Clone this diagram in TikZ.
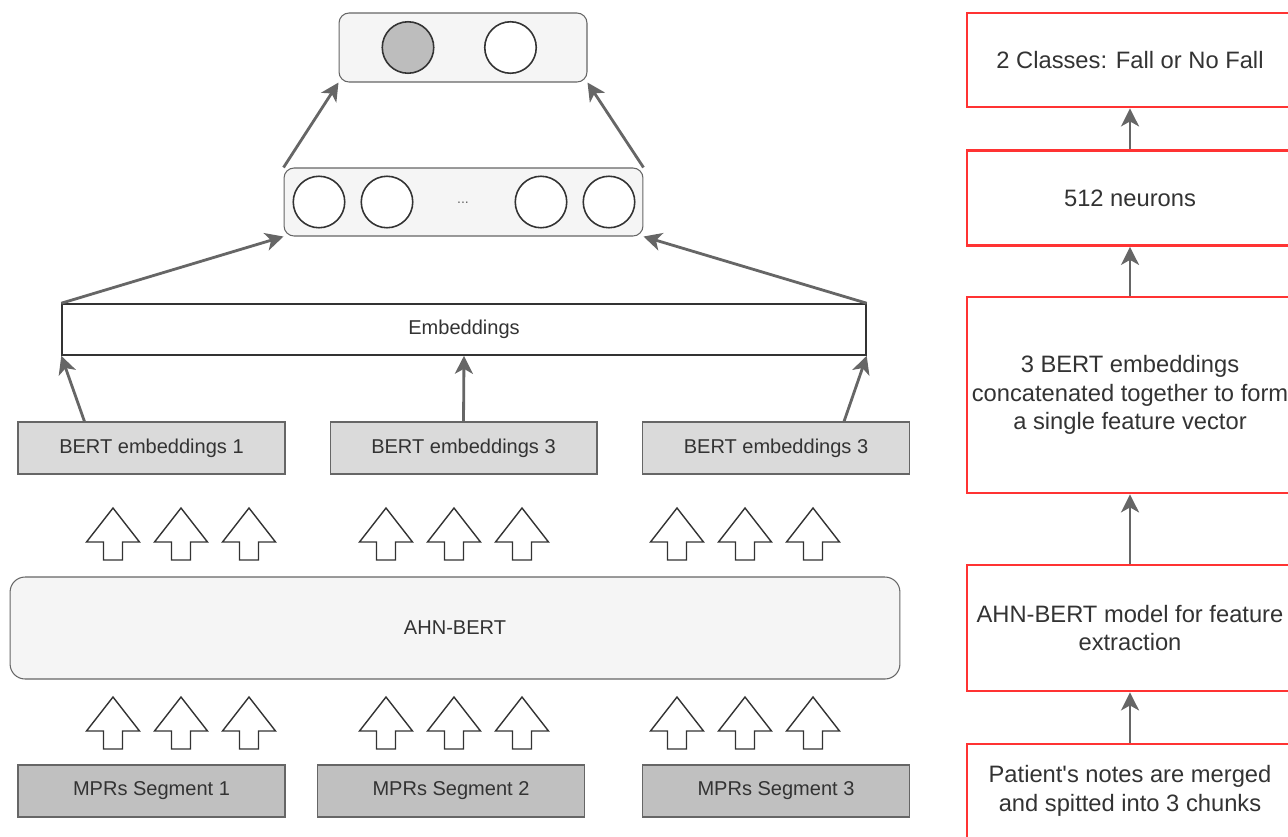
\documentclass[tikz,border=0pt]{standalone}
\usepackage{fontspec}
\setmainfont{Liberation Sans}
\usepackage{xcolor}
\usepackage{tikz}
\usetikzlibrary{arrows.meta, positioning}

\definecolor{txtgray}{HTML}{333333}
\definecolor{linegray}{HTML}{666666}
\definecolor{panelgray}{HTML}{F5F5F5}
\definecolor{bertgray}{HTML}{DADADA}
\definecolor{segmgray}{HTML}{C0C0C0}
\definecolor{outgray}{HTML}{BDBDBD}
\definecolor{stagered}{HTML}{FF3333}
\newcommand{\straightquote}{\XeTeXglyph\XeTeXcharglyph"27\relax}

\begin{document}
\begin{tikzpicture}[
  x=0.02cm, y=-0.02cm,
  panel/.style={draw=linegray, fill=panelgray, rounded corners=2mm, line width=0.6pt},
  neuron/.style={circle, draw=txtgray, fill=white, line width=0.9pt, minimum size=1.03cm, inner sep=0pt},
  bertbox/.style={draw=linegray, fill=bertgray, minimum width=5.34cm, minimum height=1.04cm, line width=0.6pt, text=txtgray, font=\fontsize{11.4}{13.7}\selectfont},
  segbox/.style={bertbox, fill=segmgray},
  stage/.style={draw=stagered, fill=white, line width=1.6pt, minimum width=6.52cm, inner sep=0pt, align=center, text=txtgray, font=\fontsize{13.5}{16.4}\selectfont},
  flow/.style={draw=linegray, line width=1.6pt, -{Stealth[length=3.6mm, width=3.6mm, inset=1mm]}},
  pics/hollowup/.style={code={
    \draw[draw=txtgray, fill=white, line width=0.8pt, line join=miter]
      (0,0) -- (26.5,34) -- (9.5,34) -- (9.5,52) -- (-9.5,52) -- (-9.5,34) -- (-26.5,34) -- cycle;}}
]
\useasboundingbox (0,0) rectangle (1288,836);
\clip (0,0) rectangle (1288,836);

% output layer
\node[panel, minimum width=4.96cm, minimum height=1.38cm] (outl) at (463,47.5) {};
\node[neuron, fill=outgray] (fall) at (408,47.5) {};
\node[neuron] (nofall) at (510.5,47.5) {};

% hidden layer
\node[panel, minimum width=7.18cm, minimum height=1.36cm] (hid) at (463.5,202) {};
\node[neuron] (h1) at (319,202) {};
\node[neuron] (h2) at (387,202) {};
\node[neuron] (h3) at (541,202) {};
\node[neuron] (h4) at (609,202) {};
\node[text=linegray, font=\fontsize{8}{9}\selectfont] (dots) at (463,203) {...};

\node[draw=txtgray, fill=white, line width=0.9pt, minimum width=16.08cm, minimum height=1.02cm, text=txtgray, font=\fontsize{11.4}{13.7}\selectfont] (emb) at (464,329.5) {Embeddings};

\node[bertbox] (bert1) at (151.5,448) {BERT embeddings 1};
\node[bertbox] (bert2) at (463.5,448) {BERT embeddings 3};
\node[bertbox] (bert3) at (776,448) {BERT embeddings 3};

\node[panel, rounded corners=3mm, minimum width=17.8cm, minimum height=2.04cm, text=txtgray, font=\fontsize{11.4}{13.7}\selectfont] (ahn) at (455,628) {AHN-BERT};

\node[segbox] (seg1) at (151.5,791) {MPRs Segment 1};
\node[segbox] (seg2) at (451,791) {MPRs Segment 2};
\node[segbox] (seg3) at (776,791) {MPRs Segment 3};

% hollow arrows
\pic at (113,508) {hollowup}; \pic at (181,508) {hollowup}; \pic at (249,508) {hollowup};
\pic at (386,508) {hollowup}; \pic at (454,508) {hollowup}; \pic at (522,508) {hollowup};
\pic at (677,508) {hollowup}; \pic at (745,508) {hollowup}; \pic at (813,508) {hollowup};
\pic at (113,697) {hollowup}; \pic at (181,697) {hollowup}; \pic at (249,697) {hollowup};
\pic at (386,697) {hollowup}; \pic at (454,697) {hollowup}; \pic at (522,697) {hollowup};
\pic at (677,697) {hollowup}; \pic at (745,697) {hollowup}; \pic at (813,697) {hollowup};

\draw[flow] (hid.north west) -- (outl.south west);
\draw[flow] (hid.north east) -- (outl.south east);
\draw[flow] (emb.north west) -- (hid.south west);
\draw[flow] (emb.north east) -- (hid.south east);
\draw[flow] ([xshift=1.34cm]bert1.north west) -- (emb.south west);
\draw[flow] (bert2.north) -- (emb.south);
\draw[flow] ([xshift=-1.32cm]bert3.north east) -- (emb.south east);

% pipeline steps
\node[stage, minimum height=1.88cm] (cls) at (1130,60) {2 Classes: Fall or No Fall};
\node[stage, minimum height=1.9cm] (dense) at (1130,198) {512 neurons};
\node[stage, minimum height=3.92cm] (concat) at (1130,395) {3 BERT embeddings\\concatenated together to form\\a single feature vector};
\node[stage, minimum height=2.52cm] (feat) at (1130,628) {AHN-BERT model for feature\\extraction};
\node[stage, minimum height=1.88cm] (notes) at (1130,791) {Patient\straightquote s notes are merged\\and spitted into 3 chunks};

\draw[flow] (dense) -- (cls);
\draw[flow] (concat) -- (dense);
\draw[flow] (feat) -- (concat);
\draw[flow] (notes) -- (feat);
\end{tikzpicture}
\end{document}
